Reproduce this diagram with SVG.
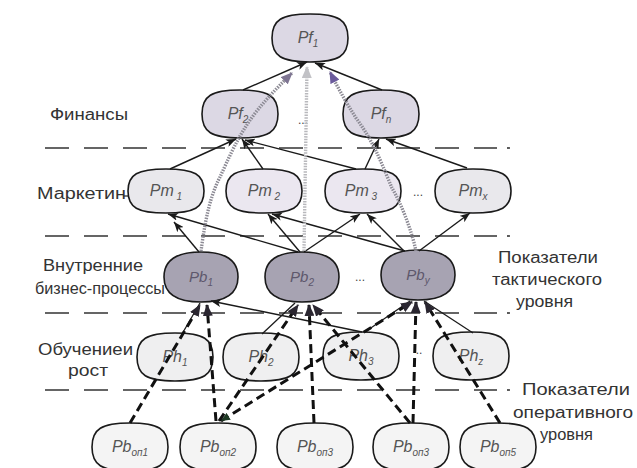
<svg xmlns="http://www.w3.org/2000/svg" width="637" height="468" viewBox="0 0 637 468">
<defs>
<style>
.lb{font-family:"Liberation Sans",Arial,sans-serif;font-size:16px;fill:#333}
.nl{font-family:"Liberation Sans",Arial,sans-serif;font-style:italic;font-size:16px;fill:#555}
.nlb{font-family:"Liberation Sans",Arial,sans-serif;font-style:italic;font-size:15px;fill:#5e586c}
.sub{font-size:10px}
.nd{stroke:#1a1a1a;stroke-width:1.6}
.pf{fill:#dcd8e4}
.pm{fill:#e9e8ec}
.pm2{fill:#ebe7f0}
.pb{fill:#a7a3b2}
.ph{fill:#efeff0}
.po{fill:#f4f4f4}
.sep{stroke:#333;stroke-width:1.6;stroke-dasharray:24 15;fill:none}
.s{stroke:#1a1a1a;stroke-width:1.4;fill:none;marker-end:url(#a)}
.sn{stroke:#1a1a1a;stroke-width:1.3;fill:none}
.d{stroke:#111;stroke-width:3;stroke-dasharray:9 5;fill:none;marker-end:url(#ad)}
.h{stroke-width:3.4;stroke-dasharray:1.5 1.2;fill:none}
.dots{font-family:"Liberation Sans",Arial,sans-serif;font-size:12px;fill:#444}
</style>
<path id="n24" d="M-38,0 C-38,-18 -28.5,-24 0,-24 C28.5,-24 38,-18 38,0 C38,18 28.5,24 0,24 C-28.5,24 -38,18 -38,0Z"/>
<path id="n22" d="M-38,0 C-38,-16.5 -28.5,-22 0,-22 C28.5,-22 38,-16.5 38,0 C38,16.5 28.5,22 0,22 C-28.5,22 -38,16.5 -38,0Z"/>
<path id="nb" d="M-37,0 C-37,-17 -25,-25 0,-25 C25,-25 37,-17 37,0 C37,17 25,25 0,25 C-25,25 -37,17 -37,0Z"/>
<marker id="a" viewBox="0 0 10 8" refX="10" refY="4" markerWidth="10" markerHeight="8" markerUnits="userSpaceOnUse" orient="auto"><path d="M0,0 L10,4 L0,8 L2.5,4z" fill="#1a1a1a"/></marker>
<marker id="ad" viewBox="0 0 12 10" refX="11" refY="5" markerWidth="12" markerHeight="10" markerUnits="userSpaceOnUse" orient="auto"><path d="M0,0 L12,5 L0,10z" fill="#2a2630"/></marker>
<marker id="ads" viewBox="0 0 9 8" refX="9" refY="4" markerWidth="9" markerHeight="8" markerUnits="userSpaceOnUse" orient="auto-start-reverse"><path d="M0,0 L9,4 L0,8z" fill="#1e3a24"/></marker>
<marker id="ah1" viewBox="0 0 12 10" refX="11" refY="5" markerWidth="12" markerHeight="10" markerUnits="userSpaceOnUse" orient="auto"><path d="M0,0 L12,5 L0,10z" fill="#7e7592"/></marker>
<marker id="ah2" viewBox="0 0 12 10" refX="11" refY="5" markerWidth="12" markerHeight="10" markerUnits="userSpaceOnUse" orient="auto"><path d="M0,0 L12,5 L0,10z" fill="#c2c2c6"/></marker>
<marker id="ah3" viewBox="0 0 12 10" refX="11" refY="5" markerWidth="12" markerHeight="10" markerUnits="userSpaceOnUse" orient="auto"><path d="M0,0 L12,5 L0,10z" fill="#6b5b9c"/></marker>
</defs>
<rect width="637" height="468" fill="#ffffff"/>

<g id="separators">
<path class="sep" d="M45,148 H497"/><path d="M507,148 h3" stroke="#333" stroke-width="1.6"/>
<path class="sep" d="M45,236 H497"/><path d="M507,236 h3" stroke="#333" stroke-width="1.6"/>
<path class="sep" d="M45,313 H497"/><path d="M507,313 h3" stroke="#333" stroke-width="1.6"/>
<path class="sep" d="M45,390 H497"/><path d="M507,390 h3" stroke="#333" stroke-width="1.6"/>
</g>

<g id="labels">
<text class="lb" x="50" y="120" textLength="78" lengthAdjust="spacingAndGlyphs">Финансы</text>
<text class="lb" x="37" y="199" textLength="89" lengthAdjust="spacingAndGlyphs">Маркетин</text>
<text class="lb" x="43" y="271" textLength="100" lengthAdjust="spacingAndGlyphs">Внутренние</text>
<text class="lb" x="35" y="294" textLength="130" lengthAdjust="spacingAndGlyphs">бизнес-процессы</text>
<text class="lb" x="38" y="355" textLength="95" lengthAdjust="spacingAndGlyphs">Обучениеи</text>
<text class="lb" x="68" y="376" textLength="40" lengthAdjust="spacingAndGlyphs">рост</text>
<text class="lb" x="498" y="263" textLength="100" lengthAdjust="spacingAndGlyphs">Показатели</text>
<text class="lb" x="492" y="285" textLength="110" lengthAdjust="spacingAndGlyphs">тактического</text>
<text class="lb" x="516" y="307" textLength="57" lengthAdjust="spacingAndGlyphs">уровня</text>
<text class="lb" x="522" y="395" textLength="108" lengthAdjust="spacingAndGlyphs">Показатели</text>
<text class="lb" x="513" y="418" textLength="120" lengthAdjust="spacingAndGlyphs">оперативного</text>
<text class="lb" x="540" y="440" textLength="53" lengthAdjust="spacingAndGlyphs">уровня</text>
<path d="M123,196 h5" stroke="#333" stroke-width="1.3"/>
</g>

<g id="Pf1"><use href="#n24" x="310" y="38" class="nd pf"/><text class="nl" x="308" y="43" text-anchor="middle">Pf<tspan class="sub" dy="4">1</tspan></text></g>
<g id="Pf2"><use href="#n24" x="240" y="114" class="nd pf"/><text class="nl" x="238" y="119" text-anchor="middle">Pf<tspan class="sub" dy="4">2</tspan></text></g>
<g id="Pfn"><use href="#n24" x="381" y="114" class="nd pf"/><text class="nl" x="381" y="119" text-anchor="middle">Pf<tspan class="sub" dy="4">n</tspan></text></g>

<g id="Pm1"><use href="#n22" x="166" y="191" class="nd pm"/><text class="nl" x="166" y="196" text-anchor="middle">Pm<tspan class="sub" dy="4"> 1</tspan></text></g>
<g id="Pm2"><use href="#n22" x="264" y="191" class="nd pm2"/><text class="nl" x="264" y="196" text-anchor="middle">Pm<tspan class="sub" dy="4"> 2</tspan></text></g>
<g id="Pm3"><use href="#n22" x="363" y="191" class="nd pm2"/><text class="nl" x="361" y="196" text-anchor="middle">Pm<tspan class="sub" dy="4"> 3</tspan></text></g>
<g id="Pmx"><use href="#n22" x="473" y="191" class="nd pm"/><text class="nl" x="473" y="196" text-anchor="middle">Pm<tspan class="sub" dy="4">x</tspan></text></g>

<g id="Pb1"><use href="#nb" x="201" y="277" class="nd pb"/><text class="nlb" x="201" y="282" text-anchor="middle">Pb<tspan class="sub" dy="4">1</tspan></text></g>
<g id="Pb2"><use href="#nb" x="302" y="277" class="nd pb"/><text class="nlb" x="302" y="282" text-anchor="middle">Pb<tspan class="sub" dy="4">2</tspan></text></g>
<g id="Pby"><use href="#nb" x="418" y="275" class="nd pb"/><text class="nlb" x="418" y="280" text-anchor="middle">Pb<tspan class="sub" dy="4">y</tspan></text></g>

<g id="Ph1"><use href="#n24" x="175" y="357" class="nd ph"/><text class="nl" x="175" y="362" text-anchor="middle">Ph<tspan class="sub" dy="4">1</tspan></text></g>
<g id="Ph2"><use href="#n24" x="261" y="357" class="nd ph"/><text class="nl" x="261" y="362" text-anchor="middle">Ph<tspan class="sub" dy="4">2</tspan></text></g>
<g id="Ph3"><use href="#n24" x="361" y="356" class="nd ph"/><text class="nl" x="361" y="361" text-anchor="middle">Ph<tspan class="sub" dy="4">3</tspan></text></g>
<g id="Phz"><use href="#n24" x="471" y="356" class="nd ph"/><text class="nl" x="471" y="361" text-anchor="middle">Ph<tspan class="sub" dy="4">z</tspan></text></g>

<g id="Pbon1"><use href="#n24" x="130" y="447" class="nd po"/><text class="nl" x="130" y="452" text-anchor="middle">Pb<tspan class="sub" dy="4">оп1</tspan></text></g>
<g id="Pbon2"><use href="#n24" x="218" y="447" class="nd po"/><text class="nl" x="218" y="452" text-anchor="middle">Pb<tspan class="sub" dy="4">оп2</tspan></text></g>
<g id="Pbon3a"><use href="#n24" x="315" y="447" class="nd po"/><text class="nl" x="315" y="452" text-anchor="middle">Pb<tspan class="sub" dy="4">оп3</tspan></text></g>
<g id="Pbon3b"><use href="#n24" x="411" y="447" class="nd po"/><text class="nl" x="411" y="452" text-anchor="middle">Pb<tspan class="sub" dy="4">оп3</tspan></text></g>
<g id="Pbon5"><use href="#n24" x="498" y="447" class="nd po"/><text class="nl" x="498" y="452" text-anchor="middle">Pb<tspan class="sub" dy="4">оп5</tspan></text></g>

<g id="ellipses">
<text class="dots" x="303" y="124" text-anchor="middle">...</text>
<text class="dots" x="418" y="196" text-anchor="middle">...</text>
<text class="dots" x="360" y="281" text-anchor="middle">...</text>
<text class="dots" x="419" y="354" text-anchor="middle">..</text>
</g>

<g id="connectors">
<path class="s" d="M243,90 L307,62"/>
<path class="s" d="M382,90 L315,63"/>
<path class="s" d="M170,169 L236,139"/>
<path class="s" d="M263,169 L242,139"/>
<path class="s" d="M356,169 L245,140"/>
<path class="s" d="M365,169 L379,139"/>
<path class="s" d="M467,168 L386,139"/>
<path class="s" d="M298,252 L168,214"/>
<path class="s" d="M199,252 L174,222"/>
<path class="s" d="M300,252 L268,214"/>
<path class="s" d="M405,251 L272,214"/>
<path class="s" d="M304,252 L360,214"/>
<path class="s" d="M404,251 L367,214"/>
<path class="s" d="M419,251 L470,213"/>
<path class="sn" d="M182,334 L200,303"/>
<path class="s" d="M362,332 L211,301"/>
<path class="sn" d="M262,334 L295,303"/>
<path class="sn" d="M365,332 L410,301"/>
<path class="sn" d="M473,333 L424,301"/>
<path class="d" d="M130,423 L200,305"/>
<path class="d" d="M216,421 L207,305"/>
<path class="d" d="M219,421 L298,305"/>
<path class="d" d="M221,421 L412,302" marker-start="url(#ads)"/>
<path class="d" d="M314,423 L309,305"/>
<path class="d" d="M410,423 L313,305"/>
<path class="d" d="M413,423 L416,302"/>
<path class="d" d="M500,423 L425,302"/>
<path class="h" stroke="#8c8a94" d="M201,251 C204,230 208,200 220,177 C228,160 238,135 256,112 C268,97 280,85 292,73" marker-end="url(#ah1)"/>
<path class="h" stroke="#b8b8bc" d="M304,251 L307,67" marker-end="url(#ah2)"/>
<path class="h" stroke="#8c8a94" d="M416,251 C412,232 402,205 392,188 C384,170 376,145 356,118 C347,104 338,88 330,72" marker-end="url(#ah3)"/>
</g>
</svg>
